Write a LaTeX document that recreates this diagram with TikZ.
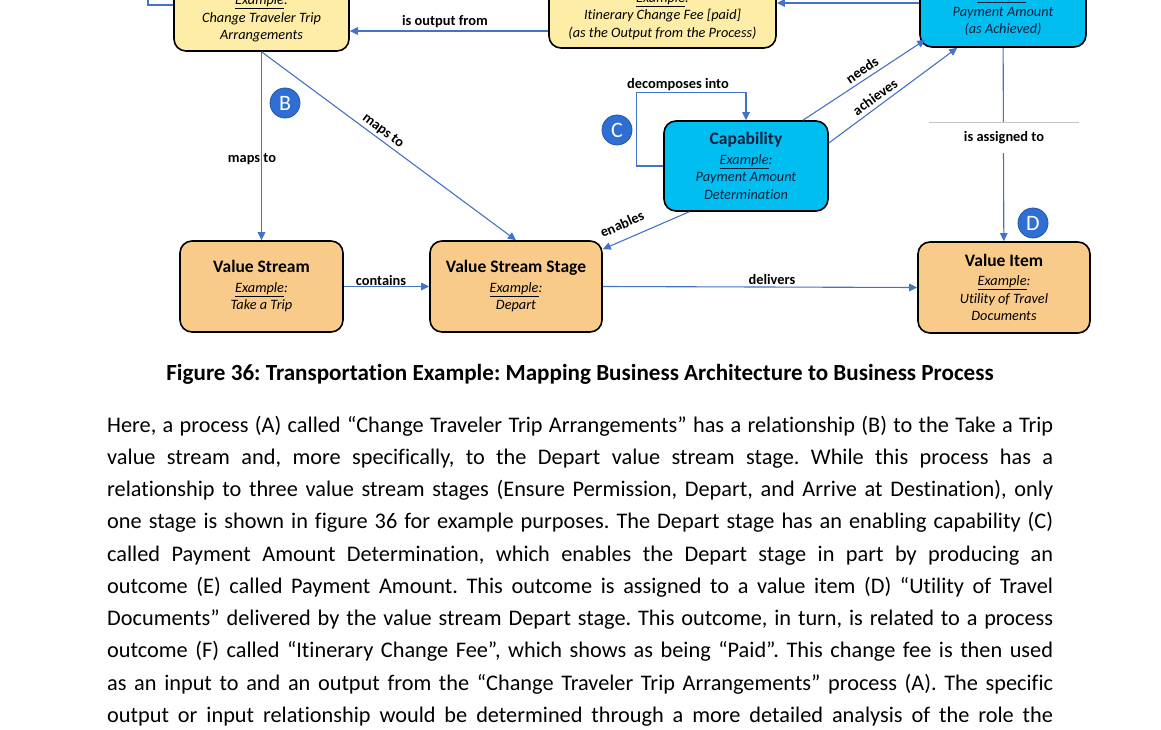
\documentclass[tikz,border=0pt]{standalone}
\usepackage{fontspec}
\setmainfont{Carlito}[Ligatures=NoCommon]
\usetikzlibrary{arrows.meta}
\definecolor{procfill}{RGB}{253,237,166}
\definecolor{capfill}{RGB}{0,191,240}
\definecolor{vsfill}{RGB}{249,203,138}
\definecolor{linkblue}{RGB}{68,114,196}
\definecolor{badgeblue}{RGB}{47,110,210}
\definecolor{captext}{RGB}{12,32,64}
\newcommand{\boxtitle}[1]{{\upshape\bfseries\fontsize{17.5}{20}\selectfont #1}}
\frenchspacing

\begin{document}
\begin{tikzpicture}[x=1pt, y=-1pt,
		box/.style={draw=black, line width=1.6pt, rounded corners=12pt, inner sep=0pt, align=center, font=\fontsize{14.3}{17.5}\selectfont\itshape},
		link/.style={draw=linkblue, line width=1.1pt},
		arr/.style={link, -{Triangle[length=8pt,width=7.5pt]}},
		lbl/.style={font=\fontsize{14.4}{17}\selectfont\bfseries, inner sep=1pt},
		badge/.style={circle, fill=badgeblue, draw=badgeblue!80!black, line width=0.8pt, minimum size=30pt, inner sep=0pt, text=white, font=\fontsize{22}{22}\selectfont},
		bodyline/.style={anchor=base west, inner sep=0pt, font=\fontsize{22.3}{32.2}\selectfont}]
		%%%%% START %%%%%
		
		\useasboundingbox (0,0) rectangle (1161,730);
		\clip (0,0) rectangle (1161,730);
		
		\node[box, fill=procfill, minimum width=175pt, minimum height=65pt] (A) at (261.5,18.5) {\underline{Example}:\\Change Traveler Trip\\Arrangements};
		\node[box, fill=procfill, minimum width=227pt, minimum height=64pt] (F) at (662.5,16) {\underline{Example}:\\Itinerary Change Fee [paid]\\(as the Output from the Process)};
		\node[box, fill=capfill, text=captext, minimum width=166pt, minimum height=69pt] (E) at (1003,12.5) {\underline{Example}:\\Payment Amount\\(as Achieved)};
		
		\node[box, fill=capfill, text=captext, minimum width=164pt, minimum height=90pt] (C) at (746,166) {\boxtitle{Capability}\\[2pt]\underline{Example}:\\Payment Amount\\Determination};
		
		\node[box, fill=vsfill, minimum width=163pt, minimum height=91pt] (VS) at (261.5,286.5) {\boxtitle{Value Stream}\\[2pt]\underline{Example}:\\Take a Trip};
		\node[box, fill=vsfill, minimum width=172pt, minimum height=91pt] (VSS) at (516,286.5) {\boxtitle{Value Stream Stage}\\[2pt]\underline{Example}:\\Depart};
		\node[box, fill=vsfill, minimum width=172pt, minimum height=91pt] (VI) at (1004,287.5) {\boxtitle{Value Item}\\[2pt]\underline{Example}:\\Utility of Travel\\Documents};
		
		\coordinate (infree) at (148,-20);
		\coordinate (inlvl) at (0,5);
		\coordinate (toplvl) at (0,3);
		\coordinate (outlvl) at (0,31);
		
		\draw[link] (infree) |- (A.west |- inlvl);
		\draw[arr] (E.west |- toplvl) -- (F.east |- toplvl);
		\draw[arr] (F.west |- outlvl) -- (A.east |- outlvl);
		\node[lbl] (outlbl) at (445,22) {is output from};
		
		\draw[arr] (A.south) -- (VS.north);
		\node[lbl] (mapvlbl) at (252,159) {maps to};
		\draw[arr] (A.south) -- (VSS.north);
		\node[lbl, rotate=-37] (mapdlbl) at (383,131) {maps to};
		
		\draw[arr] (VS.east) -- (VSS.west);
		\node[lbl] (conlbl) at (381,280) {contains};
		\draw[arr] (VSS.east) -- (VI.west);
		\node[lbl] (dellbl) at (772,279) {delivers};
		
		\draw[arr] (C.west) -- ++(-27,0) |- ([yshift=28pt]C.north) -- (C.north);
		\node[lbl] (declbl) at (678,85) {decomposes into};
		
		\draw[arr] ([xshift=57pt]C.north) -- ([xshift=6pt,yshift=8pt]E.south west);
		\node[lbl, rotate=34] (needlbl) at (862,70) {needs};
		\draw[arr] ([yshift=23pt]C.east) -- ([xshift=38pt]E.south west);
		\node[lbl, rotate=36] (achlbl) at (875,97) {achieves};
		\draw[arr] ([xshift=26pt]C.south west) -- ([yshift=-9pt]VSS.north east);
		\node[lbl, rotate=24] (enalbl) at (622,224) {enables};
		
		\draw[arr] (E) -- (VI);
		\node[lbl, fill=white, minimum width=150pt, minimum height=30pt] (asglbl) at (1004,138) {is assigned to};
		\draw[gray!45, line width=0.8pt] (asglbl.north west) -- (asglbl.north east);
		
		\node[badge] (bB) at (285,103) {B};
		\node[badge] (bC) at (617,130) {C};
		\node[badge] (bD) at (1033,223) {D};
		
		\node[anchor=base, inner sep=0pt, font=\fontsize{23.1}{26}\selectfont\bfseries] (fig) at (580,380) {Figure 36: Transportation Example: Mapping Business Architecture to Business Process};
		
		\node[bodyline] (l1) at (107,432) {\makebox[946pt][s]{Here, a process (A) called “Change Traveler Trip Arrangements” has a relationship (B) to the Take a Trip}};
		\node[bodyline] (l2) at (107,464.25) {\makebox[946pt][s]{value stream and, more specifically, to the Depart value stream stage. While this process has a}};
		\node[bodyline] (l3) at (107,496.5) {\makebox[946pt][s]{relationship to three value stream stages (Ensure Permission, Depart, and Arrive at Destination), only}};
		\node[bodyline] (l4) at (107,528.75) {\makebox[946pt][s]{one stage is shown in figure 36 for example purposes. The Depart stage has an enabling capability (C)}};
		\node[bodyline] (l5) at (107,561) {\makebox[946pt][s]{called Payment Amount Determination, which enables the Depart stage in part by producing an}};
		\node[bodyline] (l6) at (107,593.25) {\makebox[946pt][s]{outcome (E) called Payment Amount. This outcome is assigned to a value item (D) “Utility of Travel}};
		\node[bodyline] (l7) at (107,625.5) {\makebox[946pt][s]{Documents” delivered by the value stream Depart stage. This outcome, in turn, is related to a process}};
		\node[bodyline] (l8) at (107,657.75) {\makebox[946pt][s]{outcome (F) called “Itinerary Change Fee”, which shows as being “Paid”. This change fee is then used}};
		\node[bodyline] (l9) at (107,690) {\makebox[946pt][s]{as an input to and an output from the “Change Traveler Trip Arrangements” process (A). The specific}};
		\node[bodyline] (l10) at (107,722.25) {\makebox[946pt][s]{output or input relationship would be determined through a more detailed analysis of the role the}};
		
		%%%%% END %%%%%
\end{tikzpicture}
\end{document}
